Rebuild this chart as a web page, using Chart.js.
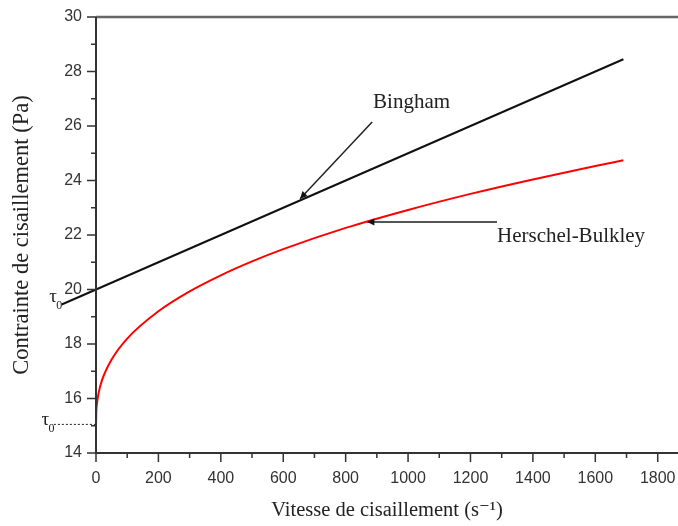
<!DOCTYPE html>
<html>
<head>
<meta charset="utf-8">
<script src="https://cdn.jsdelivr.net/npm/chart.js@4.4.0/dist/chart.umd.min.js"></script>
<style>
  html, body { margin: 0; padding: 0; background: #fff; }
  #chart { display: block; }
</style>
</head>
<body>
<canvas id="chart" width="678" height="526"></canvas>
<script>
// Bingham model: a straight line, carried a little past the origin
const binghamRate = [-110, 1690];
const binghamStress = [19.45, 28.45];

// Herschel-Bulkley model
const hbRate = [0, 1, 3, 8, 20, 50, 100, 200, 300, 400, 500, 600, 800, 1000, 1200, 1400, 1600, 1690];
const hbStress = [15, 15.52, 15.8, 16.18, 16.7, 17.43, 18.2, 19.2, 19.93, 20.52, 21.03, 21.48, 22.26, 22.92, 23.51, 24.04, 24.53, 24.74];

// yield stress guide for the Herschel-Bulkley curve
const yieldRate = [-135, 0];
const yieldStress = [15.05, 15.05];

const xTicks = [0, 200, 400, 600, 800, 1000, 1200, 1400, 1600, 1800];
const xMinor = [100, 300, 500, 700, 900, 1100, 1300, 1500, 1700];
const yTicks = [14, 16, 18, 20, 22, 24, 26, 28, 30];
const yMinor = [15, 17, 19, 21, 23, 25, 27, 29];

const toPoints = (xs, ys) => xs.map((x, i) => ({ x: x, y: ys[i] }));

const INK = '#222';
const SERIF = '"Liberation Serif", "DejaVu Serif", serif';
const SANS = '"Liberation Sans", Arial, sans-serif';

function arrowHead(ctx, fx, fy, tx, ty, size) {
  const a = Math.atan2(ty - fy, tx - fx);
  ctx.beginPath();
  ctx.moveTo(tx, ty);
  ctx.lineTo(tx - size * Math.cos(a - 0.45), ty - size * Math.sin(a - 0.45));
  ctx.lineTo(tx - size * Math.cos(a + 0.45), ty - size * Math.sin(a + 0.45));
  ctx.closePath();
  ctx.fill();
}

function tau(ctx, x, y) {
  ctx.font = '19px ' + SERIF;
  ctx.textAlign = 'left';
  ctx.textBaseline = 'middle';
  ctx.fillText('τ', x, y);
  ctx.font = '12px ' + SERIF;
  ctx.fillText('0', x + 7, y + 9);
}

// frame, tick marks, τ0 marks and the two model callouts
const decorations = {
  id: 'decorations',
  afterDatasetsDraw(chart) {
    const { ctx, chartArea: area } = chart;
    const xs = chart.scales.x;
    const ys = chart.scales.y;
    const px = v => xs.getPixelForValue(v);
    const py = v => ys.getPixelForValue(v);

    ctx.save();
    ctx.lineCap = 'butt';

    // top rule
    ctx.strokeStyle = '#666';
    ctx.lineWidth = 2.5;
    ctx.beginPath();
    ctx.moveTo(area.left, py(30));
    ctx.lineTo(area.right, py(30));
    ctx.stroke();

    // axes
    ctx.strokeStyle = '#333';
    ctx.lineWidth = 2;
    ctx.beginPath();
    ctx.moveTo(area.left, area.top);
    ctx.lineTo(area.left, area.bottom + 1);
    ctx.moveTo(area.left - 1, area.bottom);
    ctx.lineTo(area.right, area.bottom);
    ctx.stroke();

    ctx.lineWidth = 1.5;
    ctx.beginPath();
    yTicks.forEach(v => { ctx.moveTo(area.left, py(v)); ctx.lineTo(area.left - 9, py(v)); });
    yMinor.forEach(v => { ctx.moveTo(area.left, py(v)); ctx.lineTo(area.left - 5, py(v)); });
    xTicks.forEach(v => { ctx.moveTo(px(v), area.bottom); ctx.lineTo(px(v), area.bottom + 9); });
    xMinor.forEach(v => { ctx.moveTo(px(v), area.bottom); ctx.lineTo(px(v), area.bottom + 5); });
    ctx.stroke();

    // τ0 labels
    ctx.fillStyle = INK;
    tau(ctx, px(-150), py(19.72));
    tau(ctx, px(-175), py(15.22));

    // Bingham callout
    ctx.strokeStyle = '#222';
    ctx.lineWidth = 1.5;
    const b0 = [px(885), py(26.15)];
    const b1 = [px(654), py(23.33)];
    ctx.beginPath();
    ctx.moveTo(b0[0], b0[1]);
    ctx.lineTo(b1[0], b1[1]);
    ctx.stroke();
    ctx.fillStyle = '#111';
    arrowHead(ctx, b0[0], b0[1], b1[0], b1[1], 8);

    // Herschel-Bulkley callout
    const h0 = [px(1285), py(22.48)];
    const h1 = [px(869), py(22.48)];
    ctx.strokeStyle = '#555';
    ctx.lineWidth = 2;
    ctx.beginPath();
    ctx.moveTo(h0[0], h0[1]);
    ctx.lineTo(h1[0], h1[1]);
    ctx.stroke();
    ctx.fillStyle = '#111';
    arrowHead(ctx, h0[0], h0[1], h1[0], h1[1], 8);

    ctx.fillStyle = INK;
    ctx.font = '21px ' + SERIF;
    ctx.textAlign = 'left';
    ctx.textBaseline = 'middle';
    ctx.fillText('Bingham', px(888), py(26.85));
    ctx.fillText('Herschel-Bulkley', px(1285), py(21.95));

    ctx.restore();
  }
};

new Chart(document.getElementById('chart').getContext('2d'), {
  type: 'scatter',
  data: {
    datasets: [
      {
        label: 'Bingham',
        data: toPoints(binghamRate, binghamStress),
        showLine: true,
        borderColor: '#111',
        borderWidth: 2,
        pointRadius: 0,
        clip: false,
      },
      {
        label: 'Herschel-Bulkley',
        data: toPoints(hbRate, hbStress),
        showLine: true,
        borderColor: '#ff0000',
        borderWidth: 2,
        pointRadius: 0,
        cubicInterpolationMode: 'monotone',
        clip: false,
      },
      {
        label: 'τ0',
        data: toPoints(yieldRate, yieldStress),
        showLine: true,
        borderColor: '#222',
        borderWidth: 1,
        borderDash: [2, 2],
        pointRadius: 0,
        clip: false,
      },
    ],
  },
  options: {
    responsive: false,
    devicePixelRatio: 1,
    animation: false,
    layout: { padding: { top: 17, right: 0, left: 0, bottom: 0 } },
    plugins: {
      legend: { display: false },
      tooltip: { enabled: false },
    },
    scales: {
      x: {
        type: 'linear',
        min: 0,
        max: 1865,
        afterBuildTicks: scale => { scale.ticks = xTicks.map(v => ({ value: v })); },
        afterFit: scale => {
          scale.height = 73;
          scale.paddingLeft = 0;
          scale.paddingRight = 0;
        },
        grid: { display: false, drawTicks: false },
        border: { display: false },
        ticks: {
          autoSkip: false,
          maxRotation: 0,
          padding: 16,
          color: '#333',
          font: { family: SANS, size: 16 },
          callback: v => String(v),
        },
        title: {
          display: true,
          text: 'Vitesse de cisaillement (s⁻¹)',
          color: INK,
          padding: { top: 0, bottom: 3 },
          font: { family: SERIF, size: 20.5 },
        },
      },
      y: {
        type: 'linear',
        min: 14,
        max: 30,
        afterBuildTicks: scale => { scale.ticks = yTicks.map(v => ({ value: v })); },
        afterFit: scale => {
          scale.width = 96;
          scale.paddingTop = 0;
          scale.paddingBottom = 0;
        },
        grid: { display: false, drawTicks: false },
        border: { display: false },
        ticks: {
          padding: 14,
          color: '#333',
          font: { family: SANS, size: 16 },
          callback: v => String(v),
        },
        title: {
          display: true,
          text: 'Contrainte de cisaillement (Pa)',
          color: INK,
          padding: { top: 9, bottom: 0 },
          font: { family: SERIF, size: 22.5 },
        },
      },
    },
  },
  plugins: [decorations],
});
</script>
</body>
</html>
